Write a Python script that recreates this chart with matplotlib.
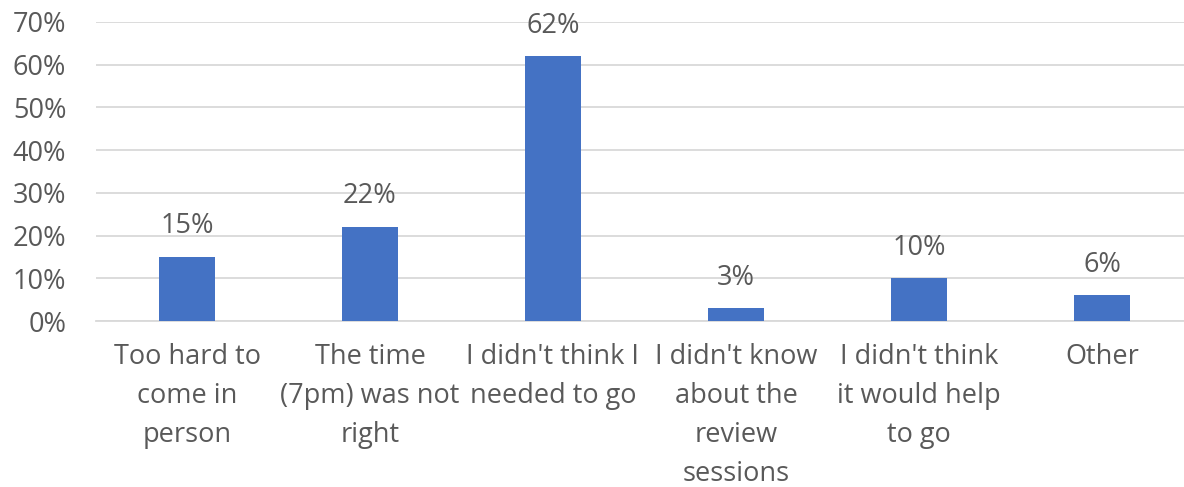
import matplotlib
matplotlib.use("Agg")
import matplotlib.pyplot as plt
from matplotlib.ticker import PercentFormatter

categories = [
    "Too hard to\ncome in\nperson",
    "The time\n(7pm) was not\nright",
    "I didn't think I\nneeded to go",
    "I didn't know\nabout the\nreview\nsessions",
    "I didn't think\nit would help\nto go",
    "Other",
]
values = [15, 22, 62, 3, 10, 6]
y_ticks = [0, 10, 20, 30, 40, 50, 60, 70]

text_color = "#595959"
bar_color = "#4472C4"
grid_color = "#D9D9D9"

plt.rcParams["font.family"] = ["Open Sans", "DejaVu Sans"]

fig = plt.figure(figsize=(11.84, 4.87), dpi=100)
ax = fig.add_axes([95.5 / 1184, 166 / 487, 1098 / 1184, 299 / 487])

x = list(range(len(categories)))
bars = ax.bar(x, values, width=0.31, color=bar_color, zorder=3)

for rect, v in zip(bars, values):
    ax.annotate(f"{v}%", (rect.get_x() + rect.get_width() / 2, v),
                xytext=(0, 12), textcoords="offset points",
                ha="center", va="bottom", fontsize=19.5, color=text_color)

ax.set_xlim(-0.5, len(categories) - 0.5)
ax.set_ylim(0, 70)
ax.set_yticks(y_ticks)
ax.yaxis.set_major_formatter(PercentFormatter(decimals=0))
ax.set_xticks(x)
ax.set_xticklabels(categories, linespacing=1.52)

ax.grid(axis="y", color=grid_color, linewidth=1.3, zorder=0)
ax.set_axisbelow(True)
for s in ["top", "right", "left"]:
    ax.spines[s].set_visible(False)
ax.spines["bottom"].set_color(grid_color)
ax.spines["bottom"].set_linewidth(1.3)

ax.tick_params(axis="y", length=0, pad=21, labelsize=19.5, labelcolor=text_color)
ax.tick_params(axis="x", length=0, pad=16, labelsize=19.5, labelcolor=text_color)

fig.savefig("out.png", dpi=100)
